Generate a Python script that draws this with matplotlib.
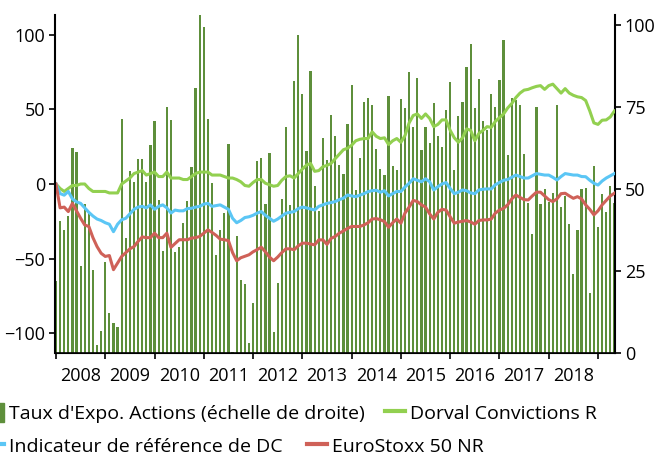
import matplotlib.pyplot as plt
import numpy as np
from matplotlib.patches import Patch
from matplotlib.lines import Line2D

plt.rcParams['font.family'] = ['Open Sans', 'DejaVu Sans']

# monthly data, Jan 2008 -> May 2019
start_year = 2008
years = [2008, 2009, 2010, 2011, 2012, 2013, 2014, 2015, 2016, 2017, 2018]

# Taux d'exposition actions (right scale)
expo = [22.0, 40.3, 37.5, 41.6, 62.6, 61.1, 26.5, 45.4, 42.8, 25.3, 2.4, 6.8,
        27.7, 12.3, 9.2, 8.0, 71.4, 34.9, 55.5, 52.1, 59.2, 59.2, 52.2, 63.4,
        70.8, 46.6, 31.2, 74.9, 71.0, 30.8, 32.4, 39.7, 46.3, 56.8, 80.8, 104.0,
        99.4, 71.3, 51.7, 29.9, 37.5, 42.8, 63.7, 0.4, 35.7, 22.3, 21.0, 3.1,
        15.1, 58.5, 59.4, 45.4, 60.9, 6.5, 21.2, 47.0, 68.8, 45.0, 82.9, 97.0,
        79.0, 61.6, 86.0, 50.9, 43.3, 65.5, 58.8, 72.6, 66.2, 57.3, 54.6, 69.8,
        81.7, 49.7, 59.5, 76.5, 77.7, 75.6, 62.2, 56.1, 54.1, 78.4, 57.0, 55.8,
        77.4, 74.7, 85.7, 68.9, 83.8, 62.0, 68.8, 64.0, 76.2, 66.0, 62.9, 74.1,
        82.6, 55.8, 72.3, 76.5, 87.2, 94.2, 74.7, 83.5, 70.7, 68.0, 79.0, 74.9,
        83.2, 95.4, 60.4, 77.6, 77.0, 75.6, 60.7, 45.6, 36.3, 75.0, 45.5, 50.1,
        46.1, 48.7, 75.6, 44.6, 47.7, 39.4, 24.1, 37.5, 49.9, 50.2, 18.4, 57.1,
        38.3, 48.5, 43.1, 50.9, 45.8]

# Dorval Convictions R (left scale, %)
dorval = [0, -3, -5, -3, -1, -1, 0, 0, -3, -5, -5, -5,
          -5, -6, -6, -6, 0, 2, 4, 7, 8, 9, 6, 7,
          8, 5, 5, 8, 4, 4, 4, 3, 3, 5, 7, 8,
          8, 8, 6, 6, 6, 5, 4, 4, 3, 1.5, -1, -1.5,
          1, 3, 3, 0.5, -0.5, -1.5, -1, 2.5, 5, 5.5, 4, 7,
          10, 12.7, 13.8, 8.5, 9, 11.6, 12.5, 13.8, 17, 20, 23, 24,
          26, 29, 30, 30.5, 30.5, 35, 32, 30.5, 31, 26.5, 29, 30.5,
          28, 32.5, 41, 46, 47, 44, 47, 44, 38.5, 40, 43, 43,
          36, 31, 28, 31, 37, 36, 29, 34, 36, 38.5, 38, 42,
          44.5, 47, 51, 54, 58, 61, 63, 63.5, 64.6, 65.5, 66, 63.5,
          66, 67, 64, 61, 64, 61, 59.5, 58.5, 58, 56, 49, 41,
          40, 42.8, 43, 45, 49]

# Indicateur de reference de DC
indic = [0, -6.4, -7.5, -5, -10, -12, -13, -16, -19, -21.5, -23.5, -24.5,
         -26, -27, -32, -27, -24, -23, -20, -17, -15.5, -15, -16, -14,
         -17, -15, -14, -16, -19.5, -17.5, -18, -18, -16.5, -16.3, -15.5, -15,
         -13.5, -13, -15, -14.5, -14, -15.5, -17, -23, -26, -24.5, -22.5, -22,
         -21, -19.5, -18.5, -21, -23, -25, -23.5, -21.5, -19.6, -19, -18.5, -16.5,
         -15.5, -16, -16.8, -17.4, -15, -14, -13, -12.5, -11.8, -10.5, -9.5, -7.4,
         -8, -8.5, -7.5, -6.5, -5.1, -4.5, -4.2, -5.5, -4.5, -8, -6.5, -5,
         -5, -2, 0.5, 3.5, 2.5, 1.5, 3.5, 1.5, -4, -1.8, 0, 1,
         -3, -6.5, -5.5, -4, -4.5, -6, -6.5, -4, -3.5, -3.3, -3.3, -0.5,
         1, 2.5, 3, 4.5, 6, 5, 4, 4, 5.5, 7, 6.5, 6,
         6, 4.5, 2.7, 5, 7, 6.5, 6, 6, 5, 4.9, 2.5, 0.5,
         -0.7, 2, 4, 5.5, 7]

# EuroStoxx 50 NR
stoxx = [0, -16, -15.5, -18.5, -13, -18, -23, -27.5, -28.5, -36, -42, -46.5,
         -48.6, -48, -57.5, -53, -48.6, -46, -43.5, -42, -38.5, -35.5, -36, -36,
         -33, -36, -36, -33, -42.5, -40, -37.4, -37.4, -37.4, -36.3, -36, -35.2,
         -33, -30.8, -32.5, -34.5, -37, -37.4, -38, -46, -51.5, -49.5, -48.5, -47.5,
         -45.5, -44, -42.4, -45.5, -49, -51.5, -49, -46, -43.5, -43.5, -44.1, -41.5,
         -39.7, -39.7, -40.3, -40.8, -37.5, -37.5, -40.5, -36.5, -35.2, -33, -31.5, -29.8,
         -28.5, -28.5, -28.5, -27.5, -26, -23.5, -23.2, -24, -25.2, -29, -26, -23.5,
         -26.3, -19.5, -15.5, -11, -11.8, -14, -15.5, -20, -23.5, -19, -17, -17.5,
         -22, -26.3, -25.5, -25, -24.5, -25.5, -27, -24.5, -24.1, -24.1, -23.5, -19.5,
         -17.5, -16.3, -14, -10, -7.4, -9, -10.5, -10.7, -8, -5.5, -5.5, -8,
         -10.5, -11.8, -10, -6.5, -6.2, -8, -9.6, -8.5, -10, -14, -17, -20.7,
         -18, -14, -11, -8, -6.2]

labels = ["Taux d'Expo. Actions (échelle de droite)", "Dorval Convictions R",
          "Indicateur de référence de DC", "EuroStoxx 50 NR"]
c_bar = '#5E8F3B'
c_dorval = '#92D050'
c_indic = '#5BC6F5'
c_stoxx = '#CF6158'

x = start_year + np.arange(len(expo)) / 12

fig = plt.figure(figsize=(6.56, 4.55), dpi=100)
ax = fig.add_axes([55/656, 1 - 353/455, 560/656, 338/455])
axr = ax.twinx()
ax.set_zorder(axr.get_zorder() + 1)
ax.patch.set_visible(False)

axr.bar(x, expo, width=0.045, color=c_bar, linewidth=0)
ax.plot(x, dorval, color=c_dorval, lw=2.2)
ax.plot(x, indic, color=c_indic, lw=2.2)
ax.plot(x, stoxx, color=c_stoxx, lw=2.2)

ax.set_xlim(2007.98, 2019.345)
ax.set_ylim(-113.4, 113.4)
axr.set_ylim(0, 103)

for a in (ax, axr):
    a.spines['top'].set_visible(False)
ax.spines['right'].set_visible(False)
axr.spines['left'].set_visible(False)
axr.spines['right'].set_linewidth(1.5)
ax.spines['left'].set_linewidth(1.5)
ax.spines['bottom'].set_linewidth(1.2)

ax.set_yticks([-100, -50, 0, 50, 100])
axr.set_yticks([0, 25, 50, 75, 100])
ax.tick_params(axis='y', direction='out', length=4, width=1.2, labelsize=13, pad=3)
axr.tick_params(axis='y', direction='out', length=4, width=1.2, labelsize=13, pad=3)

ax.set_xticks(range(2008, 2020))
ax.set_xticklabels([])
ax.set_xticks([y + 0.5 for y in years], minor=True)
ax.set_xticklabels([str(y) for y in years], minor=True)
ax.tick_params(axis='x', which='major', direction='out', length=4, width=1.2)
ax.tick_params(axis='x', which='minor', length=0, labelsize=13, pad=10)

# legend, two rows as in the reference
entries = [
    (Patch(color=c_bar), labels[0], -16, 413),
    (Line2D([], [], color=c_dorval, lw=3), labels[1], 385, 413),
    (Line2D([], [], color=c_indic, lw=3), labels[2], -16, 446),
    (Line2D([], [], color=c_stoxx, lw=3), labels[3], 307, 446),
]
for h, lab, px, py in entries:
    fig.legend([h], [lab], loc='center left', bbox_to_anchor=(px/656, 1 - py/455),
               frameon=False, fontsize=14, borderpad=0, borderaxespad=0,
               handlelength=1.05, handleheight=1.1, handletextpad=0.25)

fig.savefig('out.png', dpi=100)
